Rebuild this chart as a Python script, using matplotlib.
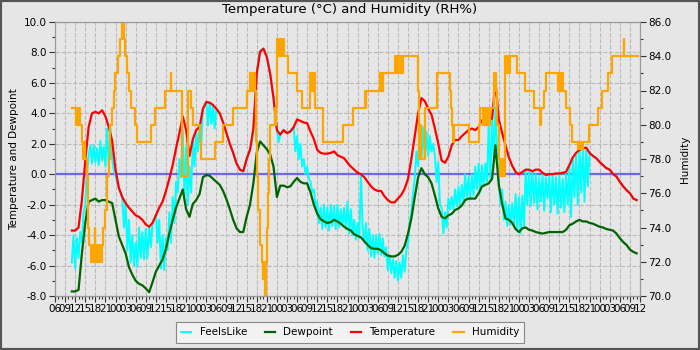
import numpy as np
import matplotlib
matplotlib.use("Agg")
import matplotlib.pyplot as plt
import matplotlib.dates as mdates
from matplotlib.ticker import MultipleLocator, FormatStrFormatter
from matplotlib.patches import Rectangle

# Start of the plotted window; all offsets below are hours after it
inicio = np.datetime64("2024-01-15T06:00")
horas_janela = 174

# Temperature and dewpoint, hourly from hour 5 to hour 173
h0_horario = 5
temperatura = [
    -3.7, -3.7, -3.5, -1.7, 0.9, 3.1, 4.0, 4.1, 4.0, 4.2, 3.8, 3.1,
    2.2, 0.3, -0.9, -1.5, -1.9, -2.2, -2.45, -2.7, -2.8, -3.0, -3.3, -3.45,
    -3.2, -2.7, -2.2, -1.8, -1.1, -0.3, 0.6, 1.7, 2.7, 3.8, 2.9, 1.2,
    2.3, 2.9, 3.1, 4.3, 4.75, 4.7, 4.55, 4.3, 4.0, 3.4, 2.7, 2.0,
    1.4, 0.7, 0.3, 0.2, 1.0, 1.6, 3.0, 6.6, 8.05, 8.25, 7.7, 6.6,
    5.0, 2.9, 2.6, 2.9, 2.7, 2.8, 3.1, 3.6, 3.5, 3.4, 3.35, 2.8,
    2.3, 1.6, 1.4, 1.35, 1.35, 1.4, 1.5, 1.25, 1.15, 1.05, 0.75, 0.5,
    0.3, 0.1, 0.0, -0.2, -0.5, -0.8, -1.0, -1.1, -1.1, -1.45, -1.7, -1.85,
    -1.85, -1.6, -1.35, -0.95, -0.3, 1.0, 2.5, 4.0, 5.0, 4.8, 4.3, 3.9,
    3.0, 2.0, 0.9, 0.75, 1.15, 1.9, 2.25, 2.25, 2.5, 2.7, 2.9, 3.0,
    2.9, 3.1, 3.55, 3.6, 3.55, 3.65, 6.1, 3.6, 2.7, 1.9, 1.1, 0.55,
    0.15, 0.0, 0.15, 0.3, 0.3, 0.2, 0.3, 0.3, 0.1, -0.05, 0.0, 0.0,
    0.05, 0.05, 0.1, 0.15, 0.6, 1.1, 1.4, 1.6, 1.7, 1.75, 1.4, 1.2,
    1.05, 0.8, 0.6, 0.4, 0.3, 0.0, -0.15, -0.5, -0.8, -1.05, -1.25, -1.6,
    -1.7,
]
ponto_orvalho = [
    -7.7, -7.7, -7.6, -5.2, -3.2, -1.8, -1.7, -1.6, -1.8, -1.7, -1.7, -1.8,
    -1.9, -3.0, -4.1, -4.65, -5.2, -6.1, -6.6, -7.0, -7.2, -7.3, -7.5, -7.75,
    -7.1, -6.4, -6.0, -5.6, -4.9, -3.9, -3.0, -2.2, -1.6, -1.0, -2.3, -2.8,
    -1.95, -1.7, -1.3, -0.2, -0.05, -0.1, -0.3, -0.5, -0.7, -1.1, -1.65, -2.3,
    -3.0, -3.55, -3.8, -3.8, -2.8, -2.0, -0.6, 1.4, 2.15, 1.9, 1.65, 1.3,
    0.5, -1.5, -0.75, -0.75, -0.85, -0.8, -0.5, -0.25, -0.5, -0.6, -0.6, -1.2,
    -2.0, -2.6, -2.95, -3.1, -3.2, -3.15, -3.0, -3.1, -3.25, -3.45, -3.6, -3.7,
    -3.95, -4.05, -4.15, -4.4, -4.65, -4.85, -4.9, -4.9, -5.0, -5.2, -5.35, -5.4,
    -5.4, -5.3, -5.1, -4.7, -3.9, -2.9, -1.5, -0.2, 0.4, 0.0, -0.2, -0.6,
    -1.4, -2.25, -2.8, -2.9, -2.7, -2.6, -2.35, -2.25, -2.05, -1.7, -1.6, -1.6,
    -1.6, -1.25, -0.8, -0.7, -0.6, -0.3, 1.9, -0.7, -1.95, -2.9, -3.0, -3.2,
    -3.6, -3.8, -3.55, -3.5, -3.65, -3.7, -3.8, -3.85, -3.9, -3.85, -3.8, -3.8,
    -3.8, -3.8, -3.8, -3.65, -3.35, -3.25, -3.1, -3.0, -3.1, -3.1, -3.2, -3.25,
    -3.35, -3.45, -3.5, -3.6, -3.65, -3.7, -3.9, -4.2, -4.45, -4.65, -4.95, -5.1,
    -5.2,
]

# Feels-like temperature, every half hour from hour 5 (wind chill makes it jumpy)
h0_sensacao = 5
sensacao = [
    -5.8, -4.0, -6.2, -4.2, -5.5, -3.8, -4.5, -2.5, -2.0, 0.0, 1.2, 1.9,
    0.7, 1.9, 0.8, 1.7, 0.6, 2.2, 0.9, 1.8, 0.5, 3.0, 0.6, 3.0,
    1.0, 0.3, -0.1, -0.5, -0.9, -1.2, -1.5, -3.5, -2.0, -5.0, -3.0, -5.8,
    -4.0, -6.0, -4.5, -6.1, -3.5, -5.5, -3.8, -5.6, -3.6, -5.5, -3.5, -4.8,
    -3.2, -3.0, -2.7, -4.5, -3.0, -6.2, -4.0, -6.3, -4.2, -5.0, -2.5, -4.5,
    -1.5, -3.2, -0.5, -1.2, 1.0, -0.2, 2.9, -1.5, 1.8, -2.0, 0.5, -1.2,
    2.2, 0.5, 2.8, 1.5, 3.1, 2.0, 4.3, 4.5, 4.75, 3.2, 4.7, 3.3,
    4.5, 3.0, 4.3, 4.1, 4.0, 3.7, 3.4, 3.0, 2.7, 2.3, 2.0, 1.7,
    1.4, 1.0, 0.7, 0.5, 0.3, 0.2, 0.2, 0.5, 1.0, 1.4, 1.6, 2.0,
    3.0, 4.6, 6.6, 7.5, 8.05, 8.2, 8.25, 8.0, 7.7, 7.2, 6.6, 5.8,
    5.0, 3.9, 2.9, 2.1, 2.6, 2.8, 2.9, 2.8, 2.7, 2.8, 2.8, 3.0,
    3.1, 1.5, 2.5, 1.0, 2.0, 0.5, 1.0, 0.0, 0.5, -0.3, -0.5, -1.2,
    -1.0, -2.2, -1.8, -3.2, -2.2, -3.6, -2.0, -3.5, -2.2, -3.7, -2.0, -3.4,
    -2.1, -3.6, -2.0, -3.5, -2.3, -3.4, -2.2, -3.6, -1.8, -3.9, -2.3, -4.0,
    -3.0, -4.3, -3.2, -4.2, 0.0, -3.5, -4.5, -3.2, -5.0, -3.6, -5.4, -4.0,
    -5.5, -4.0, -5.2, -3.9, -5.3, -4.2, -5.4, -4.8, -6.3, -5.3, -6.5, -5.6,
    -6.8, -5.7, -7.0, -5.8, -6.8, -5.3, -6.4, -5.0, -4.5, -3.2, -2.5, -1.2,
    -0.3, 1.5, 0.5, 3.0, 1.0, 3.1, 1.0, 2.8, 1.2, 2.5, 1.5, 2.0,
    1.2, -0.5, 0.8, -2.0, -2.2, -3.9, -2.5, -3.5, -1.6, -2.3, -1.5, -2.3,
    -1.0, -2.1, -0.8, -2.0, -0.7, -1.9, 0.0, -1.5, -0.2, -1.6, 0.0, -1.4,
    0.5, -1.0, 0.7, -1.2, 0.6, -0.8, 0.7, -0.5, 3.3, -0.3, 3.6, 1.0,
    4.4, 1.5, -0.5, -2.0, -1.0, -3.0, -1.8, -3.4, -2.0, -3.3, -1.9, -3.4,
    -1.3, -3.6, -1.5, -3.9, -1.4, -3.5, 0.3, -2.0, 0.3, -2.1, 0.1, -1.9,
    0.0, -2.3, -0.2, -1.8, 0.0, -2.4, -0.2, -1.6, -0.1, -2.5, 0.0, -2.0,
    -0.2, -2.6, 0.0, -2.2, -0.3, -2.5, 0.0, -2.0, 0.5, -2.8, 1.0, -1.5,
    1.3, -2.0, 1.6, -1.2, 1.7, -1.8, 1.7, -0.8, 1.4, 1.3, 1.2, 1.1,
    1.05, 0.9, 0.8, 0.7, 0.6, 0.5, 0.4, 0.35, 0.3, 0.15, 0.0, -0.1,
    -0.15, -0.3, -0.5, -0.65, -0.8, -0.9, -1.05, -1.15, -1.25, -1.4, -1.6, -1.65,
    -1.7,
]

# Relative humidity only changes in whole steps: hour of each change and new value
umidade_horas = [
    5.0, 6.3, 6.5, 6.8, 7.0, 7.3, 8.0, 8.3, 8.6, 8.9, 9.4, 9.9, 10.2, 10.6,
    11.0, 11.3, 11.8, 12.0, 12.6, 12.9, 13.4, 13.7, 14.1, 14.4, 15.0, 15.5,
    16.0, 16.4, 16.9, 17.4, 17.8, 18.7, 19.3, 19.8, 20.4, 20.9, 21.4, 22.0,
    22.6, 23.8, 24.3, 28.7, 29.7, 32.7, 34.4, 34.6, 37.7, 39.5, 40.5, 41.0,
    43.1, 43.5, 47.5, 50.0, 53.0, 57.0, 58.0, 58.3, 58.6, 58.9, 59.2, 59.6,
    59.8, 60.0, 60.5, 61.0, 61.5, 61.8, 62.0, 62.2, 62.5, 62.9, 63.2, 63.5,
    63.7, 64.0, 65.3, 65.5, 65.8, 66.0, 66.3, 66.6, 66.9, 67.2, 67.5, 67.8,
    68.1, 69.3, 72.0, 73.5, 75.8, 76.0, 76.2, 76.5, 76.8, 77.3, 79.7, 85.7,
    88.6, 92.2, 92.4, 92.6, 96.7, 97.0, 97.3, 97.5, 97.7, 101.1, 101.4, 101.7,
    102.0, 102.3, 102.6, 102.9, 103.2, 103.5, 108.0, 108.3, 108.7, 109.0, 110.0, 113.6,
    117.5, 117.8, 118.2, 118.5, 118.8, 123.0, 126.0, 126.5, 127.2, 127.5, 128.0, 128.4,
    128.9, 129.5, 130.6, 131.2, 131.6, 132.0, 132.5, 132.9, 133.3, 133.8, 134.2, 134.6,
    135.0, 135.4, 137.3, 139.8, 142.5, 144.3, 144.6, 145.3, 146.0, 149.7, 150.0, 150.3,
    150.6, 151.0, 152.0, 153.2, 153.8, 155.5, 155.8, 156.1, 156.4, 156.7, 157.0, 158.8,
    161.4, 162.6, 164.5, 165.6, 169.1, 169.3, 173.4,
]
umidade = [
    81, 80, 81, 80, 81, 80, 79, 78, 79, 78, 77, 74, 73, 72,
    73, 72, 74, 72, 73, 72, 73, 72, 73, 74, 75, 77,
    78, 80, 81, 82, 83, 84, 85, 86, 85, 84, 83, 82,
    81, 80, 79, 80, 81, 82, 83, 82, 77, 82, 81, 80,
    79, 78, 79, 80, 81, 82, 83, 82, 83, 82, 83, 82,
    79, 77, 75, 73, 72, 71, 72, 71, 70, 72, 74, 76,
    78, 80, 81, 80, 81, 85, 84, 85, 84, 85, 84, 85,
    84, 83, 82, 81, 83, 82, 83, 82, 83, 81, 79, 80,
    81, 82, 81, 82, 83, 82, 83, 82, 83, 84, 83, 84,
    83, 84, 83, 84, 83, 84, 82, 78, 80, 78, 81, 83,
    82, 81, 80, 79, 80, 79, 80, 81, 80, 81, 80, 81,
    80, 81, 83, 82, 80, 78, 77, 78, 77, 84, 83, 84,
    83, 84, 83, 82, 81, 80, 81, 82, 83, 82, 83, 82,
    83, 82, 81, 80, 79, 78.6, 79, 78.6, 79, 78.6, 79, 80,
    81, 82, 83, 84, 85, 84, 84,
]


def em_datas(horas):
    minutos = np.round(np.asarray(horas, dtype=float) * 60).astype(int)
    return inicio + minutos.astype("timedelta64[m]")


t_horario = em_datas(h0_horario + np.arange(len(temperatura)))
t_sensacao = em_datas(h0_sensacao + 0.5 * np.arange(len(sensacao)))
t_umidade = em_datas(umidade_horas)

fundo = "#e6e6e6"
fig = plt.figure(figsize=(7, 3.5), dpi=100, facecolor=fundo)
ax = fig.add_axes([55 / 700, 1 - 296 / 350, 585 / 700, 274 / 350])
ax.set_facecolor(fundo)
ax2 = ax.twinx()

fs = 7.5
ax.axhline(0, color="#6a6ae6", lw=1.6, zorder=1.5)
l_sens, = ax.plot(t_sensacao, sensacao, color="#00ffff", lw=1.4, label="FeelsLike", zorder=2)
l_orv, = ax.plot(t_horario, ponto_orvalho, color="#006400", lw=1.6, label="Dewpoint", zorder=3)
l_temp, = ax.plot(t_horario, temperatura, color="#ff0000", lw=1.6, label="Temperature", zorder=4)
l_umid, = ax2.step(t_umidade, umidade, where="post", color="#ffa500", lw=1.6, label="Humidity")

ax.set_xlim(inicio, inicio + np.timedelta64(horas_janela, "h"))
ax.set_ylim(-8, 10)
ax2.set_ylim(70, 86)

ax.xaxis.set_major_locator(mdates.HourLocator(byhour=range(0, 24, 3)))
ax.xaxis.set_minor_locator(mdates.HourLocator())
ax.xaxis.set_major_formatter(mdates.DateFormatter("%H"))
for eixo in (ax, ax2):
    eixo.yaxis.set_major_locator(MultipleLocator(2))
    eixo.yaxis.set_minor_locator(MultipleLocator(1))
    eixo.yaxis.set_major_formatter(FormatStrFormatter("%.1f"))
    eixo.tick_params(which="major", length=4, width=0.8, color="#333333", labelsize=fs, pad=2)
    eixo.tick_params(which="minor", length=2, width=0.8, color="#333333")
    for sp in eixo.spines.values():
        sp.set_color("#999999")

ax.grid(True, which="major", ls="--", color="#b9b9b9", lw=0.8)
ax.set_axisbelow(True)

ax.set_ylabel("Temperature and Dewpoint", fontsize=fs, labelpad=3)
ax2.set_ylabel("Humidity", fontsize=fs, labelpad=6)
fig.text(0.5, 1 - 10 / 350, "Temperature (°C) and Humidity (RH%)",
         ha="center", va="center", fontsize=9.5)

leg = fig.legend([l_sens, l_orv, l_temp, l_umid],
                 ["FeelsLike", "Dewpoint", "Temperature", "Humidity"],
                 loc="lower center", bbox_to_anchor=(0.5, 0.006), ncol=4,
                 fontsize=fs, frameon=True, fancybox=False, edgecolor="#888888",
                 facecolor="#f2f2f2", framealpha=1, handlelength=1.0,
                 columnspacing=1.7, borderpad=0.5)
leg.get_frame().set_linewidth(0.8)

# dark frame around the whole image
fig.patches.append(Rectangle((0, 0), 1, 1, transform=fig.transFigure,
                             fill=False, edgecolor="#555555", lw=3))

fig.savefig("out.png", dpi=100, facecolor=fundo)
